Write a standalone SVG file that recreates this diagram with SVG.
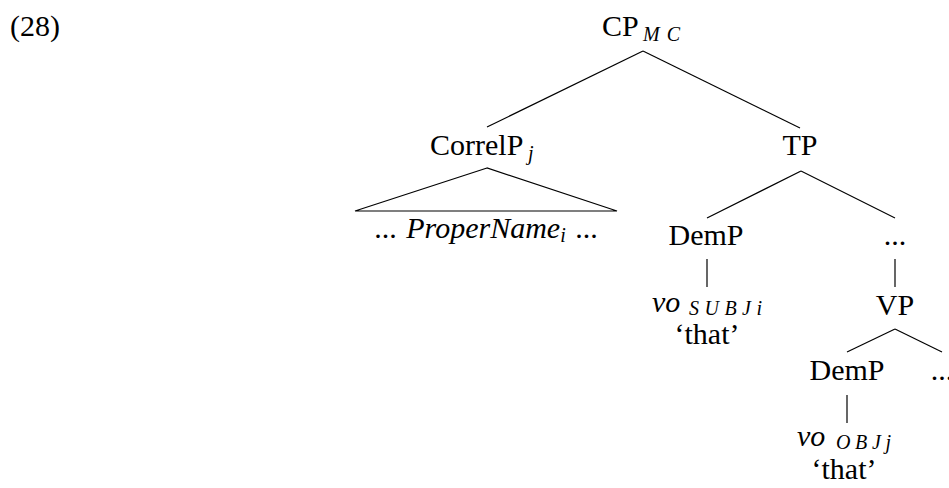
<svg xmlns="http://www.w3.org/2000/svg" width="949" height="488" viewBox="0 0 949 488">
<style>
  text { font-family: "Liberation Serif", "Times New Roman", serif; fill: #000; }
  .lbl { font-size: 30px; }
  .it { font-style: italic; }
  .sub { font-size: 20px; font-style: italic; }
  .edge { stroke: #000; stroke-width: 1.2; fill: none; }
</style>
<rect width="949" height="488" fill="#fff"/>
<text id="exnum" class="lbl" x="10" y="36">(28)</text>

<g id="connectors">
  <line class="edge" x1="643" y1="51" x2="487" y2="127"/>
  <line class="edge" x1="643" y1="51" x2="800" y2="128"/>
  <polygon class="edge" points="487,168 355,211 617,211"/>
  <line class="edge" x1="801" y1="171" x2="707" y2="218"/>
  <line class="edge" x1="801" y1="171" x2="895" y2="218"/>
  <line class="edge" x1="707" y1="259" x2="707" y2="287"/>
  <line class="edge" x1="895" y1="259" x2="895" y2="287"/>
  <line class="edge" x1="895" y1="329" x2="847" y2="352"/>
  <line class="edge" x1="895" y1="329" x2="942" y2="352"/>
  <line class="edge" x1="847" y1="395" x2="847" y2="423"/>
</g>

<g id="cp">
  <text class="lbl" x="602" y="36">CP</text>
  <text class="sub" x="643" y="41" textLength="37" lengthAdjust="spacing">MC</text>
</g>
<g id="correlp">
  <text class="lbl" x="430" y="155">CorrelP</text>
  <text class="sub" x="528" y="160">j</text>
</g>
<g id="propername">
  <text class="lbl" x="486" y="238" text-anchor="middle" word-spacing="2">... <tspan class="it">ProperName</tspan><tspan font-size="20" font-style="italic" dy="4">i</tspan><tspan dy="-4"> ...</tspan></text>
</g>
<g id="tp">
  <text class="lbl" x="800" y="155" text-anchor="middle">TP</text>
</g>
<g id="demp1">
  <text class="lbl" x="706" y="245" text-anchor="middle">DemP</text>
</g>
<g id="dots1">
  <text class="lbl" x="895" y="245" text-anchor="middle">...</text>
</g>
<g id="vo1">
  <text class="lbl it" x="652" y="312">vo</text>
  <text class="sub" x="689" y="315" textLength="73" lengthAdjust="spacing">SUBJi</text>
  <text class="lbl" x="707" y="344" text-anchor="middle">‘that’</text>
</g>
<g id="vp">
  <text class="lbl" x="895" y="315" text-anchor="middle">VP</text>
</g>
<g id="demp2">
  <text class="lbl" x="847" y="380" text-anchor="middle">DemP</text>
</g>
<g id="dots2">
  <text class="lbl" x="942" y="380" text-anchor="middle">...</text>
</g>
<g id="vo2">
  <text class="lbl it" x="797" y="446">vo</text>
  <text class="sub" x="836" y="449" textLength="55" lengthAdjust="spacing">OBJj</text>
  <text class="lbl" x="844" y="479" text-anchor="middle">‘that’</text>
</g>
</svg>
